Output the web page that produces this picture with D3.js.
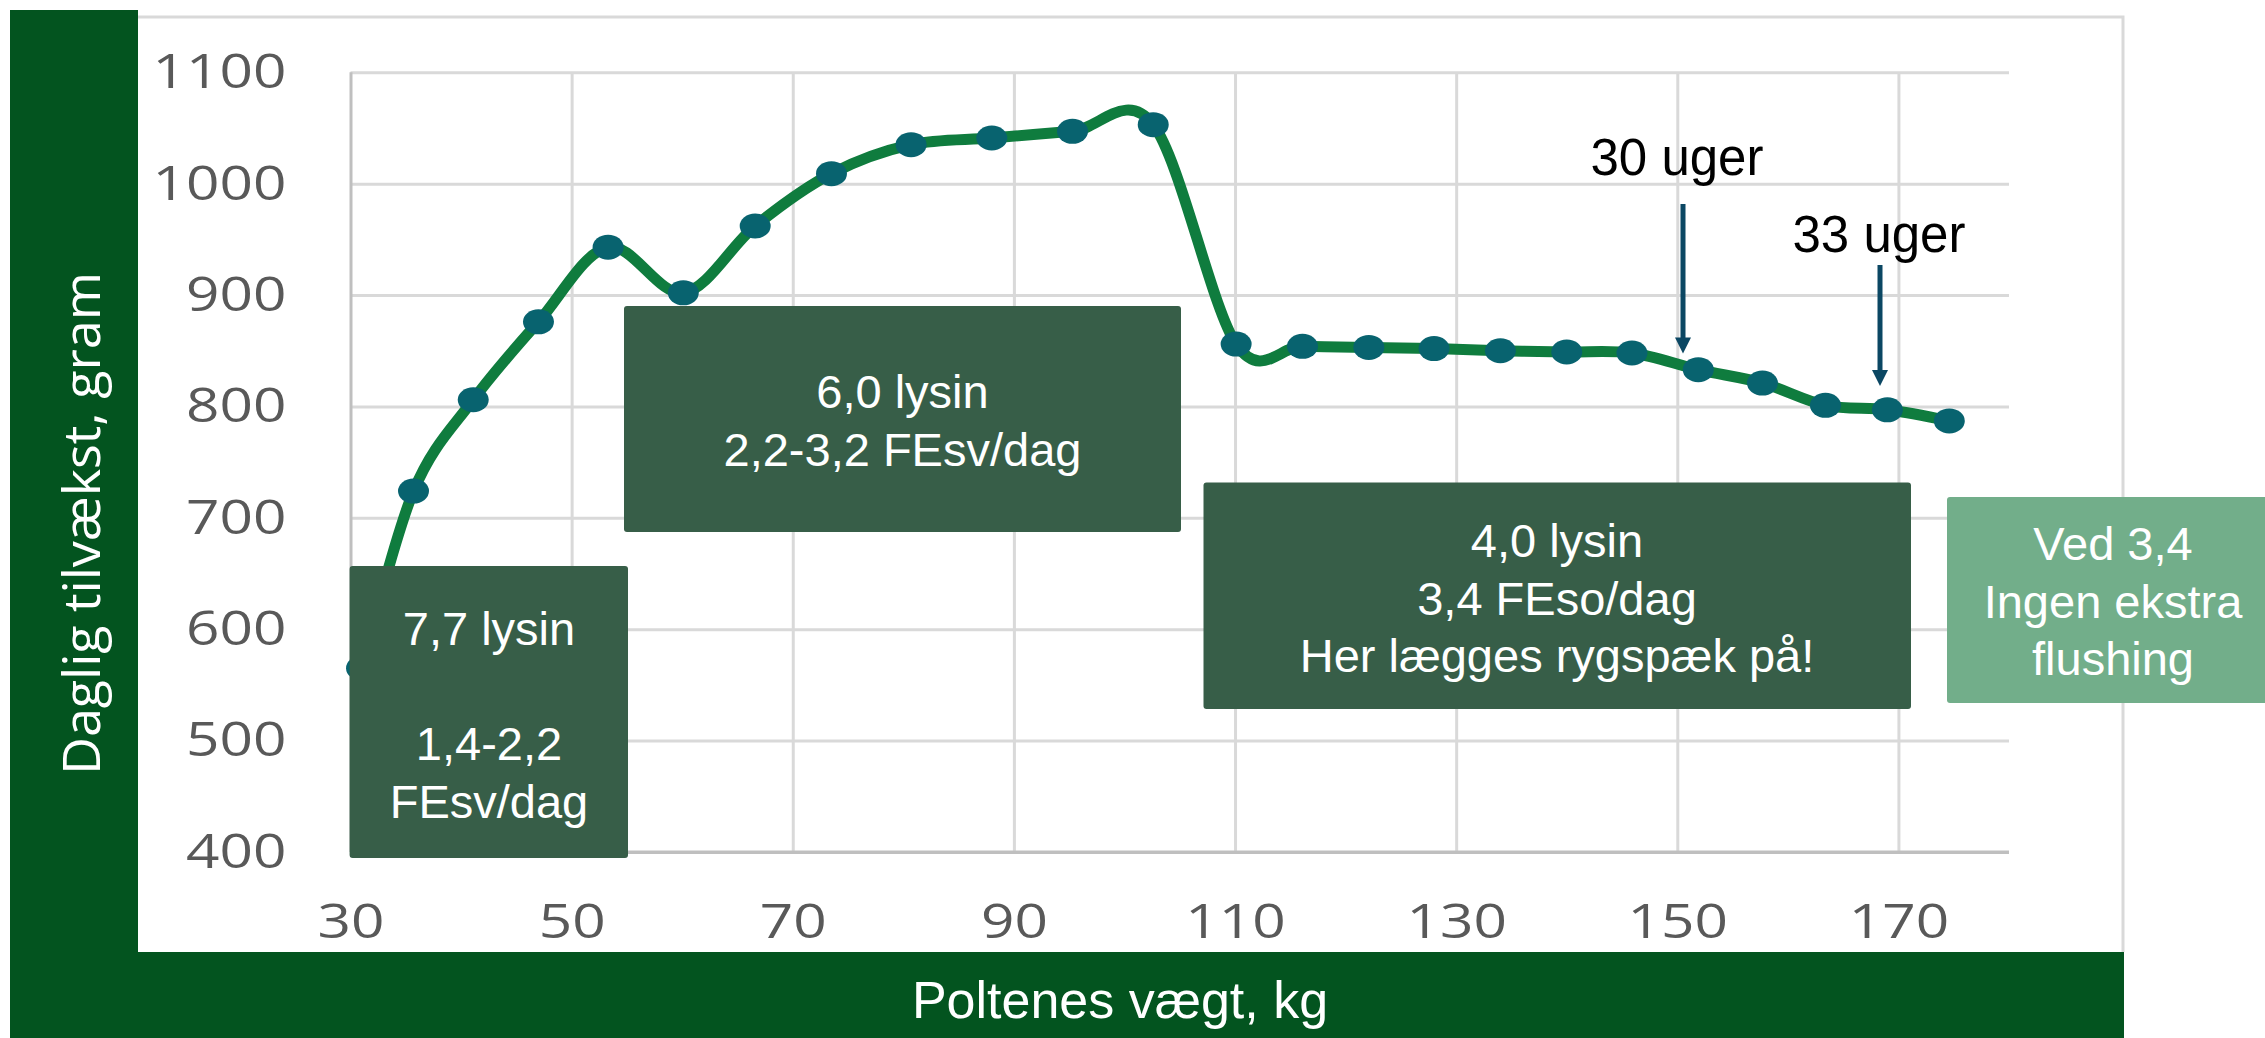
<!DOCTYPE html>
<html>
<head>
<meta charset="utf-8">
<script src="https://cdn.jsdelivr.net/npm/d3@7"></script>
<style>
  html, body { margin: 0; padding: 0; background: #fff; }
  svg { display: block; }
</style>
</head>
<body>
<svg id="chart" width="2265" height="1038"></svg>
<script>
// Data (weight in kg, daily gain in g)
const weights = [31, 35.7, 41.1, 47.0, 53.3, 60.1, 66.6, 73.5, 80.7, 88.0, 95.3, 102.6,
                 110.1, 116.1, 122.1, 128.0, 134.0, 140.0, 145.9, 151.9, 157.7, 163.4, 169.0, 174.6];
const gains = [565, 724, 806, 876, 943, 902, 962, 1009, 1035, 1041, 1047, 1053,
               856, 854, 853, 852, 850, 849, 848, 833, 821, 801, 797, 787];
const xTicks = [30, 50, 70, 90, 110, 130, 150, 170];
const yTicks = [400, 500, 600, 700, 800, 900, 1000, 1100];

const xTitle = "Poltenes vægt, kg";
const yTitle = "Daglig tilvækst, gram";

const boxTexts = [
  ["7,7 lysin", "", "1,4-2,2", "FEsv/dag"],
  ["6,0 lysin", "2,2-3,2 FEsv/dag"],
  ["4,0 lysin", "3,4 FEso/dag", "Her lægges rygspæk på!"],
  ["Ved 3,4", "Ingen ekstra", "flushing"]
];
const arrowLabels = ["30 uger", "33 uger"];

// Layout
const plot = { left: 350.5, right: 2009, top: 72.3, bottom: 852 };
const boxLayout = [
  { x: 349.6, y: 566, w: 278.4, h: 292, cx: 489, base: 645, fill: "#375e48" },
  { x: 624, y: 306, w: 557, h: 226, cx: 902.5, base: 408, fill: "#375e48" },
  { x: 1203.5, y: 482.5, w: 707.5, h: 226.5, cx: 1557, base: 557, fill: "#375e48" },
  { x: 1947, y: 497, w: 330, h: 206, cx: 2113, base: 560, fill: "#72ae8a" }
];
const arrowLayout = [
  { x: 1683, top: 204, tip: 353.5, labelX: 1677, labelY: 175 },
  { x: 1880, top: 265, tip: 386, labelX: 1879, labelY: 252 }
];
const tickStretch = 1.22;

const svg = d3.select("#chart");

const x = d3.scaleLinear().domain([30, 180]).range([plot.left, plot.right]);
const y = d3.scaleLinear().domain([400, 1100]).range([plot.bottom, plot.top]);

// outer chart border
svg.append("path")
  .attr("d", "M138,17 H2123 V952")
  .attr("fill", "none")
  .attr("stroke", "#d9d9d9")
  .attr("stroke-width", 3);

// y axis with gridlines
const yAxis = svg.append("g")
  .attr("transform", `translate(${plot.left},0)`)
  .call(d3.axisLeft(y).tickValues(yTicks).tickFormat(d3.format("d"))
    .tickSize(-(plot.right - plot.left)).tickPadding(64));
yAxis.select(".domain").remove();
yAxis.selectAll(".tick line")
  .attr("stroke", d => d === 400 ? "#bfbfbf" : "#d9d9d9")
  .attr("stroke-width", 3);
yAxis.selectAll(".tick text")
  .attr("x", -64 / tickStretch)
  .attr("transform", `scale(${tickStretch},1)`)
  .attr("fill", "#595959")
  .style("font-family", "'Open Sans', sans-serif")
  .style("font-size", "48px");

// x axis with gridlines
const xAxis = svg.append("g")
  .attr("transform", `translate(0,${plot.bottom})`)
  .call(d3.axisBottom(x).tickValues(xTicks).tickFormat(d3.format("d"))
    .tickSize(-(plot.bottom - plot.top)).tickPadding(51.5));
xAxis.select(".domain").remove();
xAxis.selectAll(".tick line")
  .attr("stroke", d => d === 30 ? "#bfbfbf" : "#d9d9d9")
  .attr("stroke-width", 3);
xAxis.selectAll(".tick text")
  .attr("transform", `scale(${tickStretch},1)`)
  .attr("fill", "#595959")
  .style("font-family", "'Open Sans', sans-serif")
  .style("font-size", "48px");

// repaint the bottom axis line on top of the verticals
svg.append("line")
  .attr("x1", plot.left).attr("x2", plot.right)
  .attr("y1", y(400)).attr("y2", y(400))
  .attr("stroke", "#bfbfbf").attr("stroke-width", 3);

// series
const points = weights.map((w, i) => ({ w, g: gains[i] }));

const line = d3.line()
  .x(d => x(d.w))
  .y(d => y(d.g))
  .curve(d3.curveCardinal.tension(0));

svg.append("path")
  .datum(points)
  .attr("d", line)
  .attr("fill", "none")
  .attr("stroke", "#0f7c3e")
  .attr("stroke-width", 11)
  .attr("stroke-linecap", "round")
  .attr("stroke-linejoin", "round");

svg.append("g").selectAll("ellipse")
  .data(points)
  .join("ellipse")
  .attr("cx", d => x(d.w))
  .attr("cy", d => y(d.g))
  .attr("rx", 15.5)
  .attr("ry", 12.5)
  .attr("fill", "#08636f");

// text boxes
boxLayout.forEach((b, i) => {
  const g = svg.append("g");
  g.append("rect")
    .attr("x", b.x).attr("y", b.y)
    .attr("width", b.w).attr("height", b.h)
    .attr("rx", 3)
    .attr("fill", b.fill);
  g.selectAll("text")
    .data(boxTexts[i])
    .join("text")
    .attr("x", b.cx)
    .attr("y", (d, j) => b.base + j * 57.5)
    .attr("text-anchor", "middle")
    .attr("fill", "#fff")
    .style("font-family", "'Liberation Sans', Arial, sans-serif")
    .style("font-size", "47px")
    .text(d => d);
});

// arrows with week labels
arrowLayout.forEach((a, i) => {
  svg.append("line")
    .attr("x1", a.x).attr("x2", a.x)
    .attr("y1", a.top).attr("y2", a.tip - 14)
    .attr("stroke", "#0b4763")
    .attr("stroke-width", 5);
  svg.append("path")
    .attr("d", `M${a.x - 8},${a.tip - 16} L${a.x + 8},${a.tip - 16} L${a.x},${a.tip} Z`)
    .attr("fill", "#0b4763");
  svg.append("text")
    .attr("x", a.labelX).attr("y", a.labelY)
    .attr("text-anchor", "middle")
    .attr("fill", "#000")
    .style("font-family", "'Liberation Sans', Arial, sans-serif")
    .style("font-size", "51px")
    .text(arrowLabels[i]);
});

// axis title bands
svg.append("rect")
  .attr("x", 10).attr("y", 10)
  .attr("width", 128).attr("height", 1028)
  .attr("fill", "#03541f");
svg.append("rect")
  .attr("x", 10).attr("y", 952)
  .attr("width", 2114).attr("height", 86)
  .attr("fill", "#03541f");

svg.append("text")
  .attr("transform", "translate(100,523.5) rotate(-90)")
  .attr("text-anchor", "middle")
  .attr("fill", "#fff")
  .style("font-family", "'Open Sans', sans-serif")
  .style("font-size", "52px")
  .text(yTitle);

svg.append("text")
  .attr("x", 1120).attr("y", 1017.7)
  .attr("text-anchor", "middle")
  .attr("fill", "#fff")
  .style("font-family", "'Liberation Sans', Arial, sans-serif")
  .style("font-size", "52px")
  .text(xTitle);
</script>
</body>
</html>
